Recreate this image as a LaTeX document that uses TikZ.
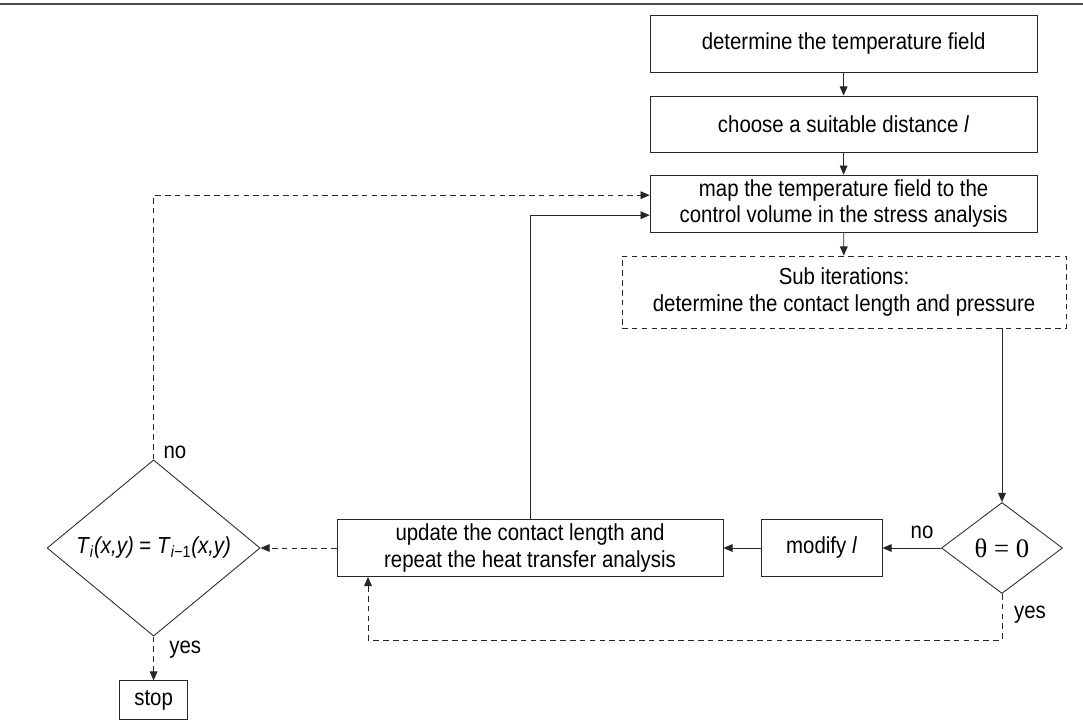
\documentclass[tikz,border=0pt]{standalone}
\usepackage{fontspec}
\setmainfont{Liberation Sans}[FakeStretch=0.88]
\newfontfamily\thetafont{Liberation Serif}
\usetikzlibrary{shapes.geometric,arrows.meta}

\begin{document}
\begin{tikzpicture}[
    font=\fontsize{16.5}{19}\selectfont,
    stepbox/.style={draw=black!85, line width=0.6pt, align=center, minimum width=9.675cm, minimum height=1.425cm, inner sep=2pt},
    testbox/.style={draw=black!85, diamond, line width=0.6pt, inner sep=0pt},
    flow/.style={draw=black!85, line width=0.6pt, -{Triangle[length=6.5pt,width=5.5pt]}},
    flowdash/.style={flow, dash pattern=on 4pt off 3pt}
  ]
  \useasboundingbox (0,0) rectangle (27.075,18.15);

  % rule at the top
  \draw[line width=1.2pt, black!70] (0,18.05) -- (27.075,18.05);

  % main column
  \node[stepbox] (field) at (21.09,17.06) {determine the temperature field};
  \node[stepbox, minimum height=1.4cm] (dist) at (21.09,15.05) {choose a suitable distance \textit{l}};
  \node[stepbox] (map) at (21.09,13.06) {map the temperature field to the\\control volume in the stress analysis};
  \node[stepbox, dash pattern=on 4pt off 3pt, minimum width=11.1cm, minimum height=1.8cm] (sub) at (21.1,10.85) {Sub iterations:\\determine the contact length and pressure};

  % lower row
  \node[testbox, minimum width=3.025cm, minimum height=2.275cm] (theta) at (25.05,4.45) {\thetafont\fontsize{19}{21}\selectfont θ = 0};
  \node[stepbox, minimum width=3.025cm] (mod) at (20.54,4.45) {modify \textit{l}};
  \node[stepbox, minimum width=9.65cm] (upd) at (13.25,4.45) {update the contact length and\\repeat the heat transfer analysis};
  \node[testbox, minimum width=5.325cm, minimum height=4.025cm] (cmp) at (3.84,4.45) {\textit{T}\textsubscript{\textit{i}}\textit{(x,y)} = \textit{T}\textsubscript{\textit{i}−1}\textit{(x,y)}};
  \node[stepbox, minimum width=1.7cm, minimum height=0.975cm] (stop) at (3.84,0.64) {stop};

  % solid connectors
  \draw[flow] (field) -- (dist);
  \draw[flow] (dist) -- (map);
  \draw[flow] (map) -- (sub);
  \draw[flow] (sub.south -| theta.north) -- (theta.north);
  \draw[flow] (theta.west) -- (mod.east);
  \draw[flow] (mod.west) -- (upd.east);
  \draw[flow] (upd.north) |- ([yshift=-0.29cm]map.west);

  % dashed connectors
  \draw[flowdash] (theta.south) -- ++(0,-1.15) -| ([xshift=-4.05cm]upd.south);
  \draw[flowdash] (upd.west) -- (cmp.east);
  \draw[flowdash] (cmp.north) |- ([yshift=0.21cm]map.west);
  \draw[flowdash] (cmp.south) -- (stop.north);

  % yes / no labels
  \node at (23.05,4.85) {no};
  \node at (25.75,2.78) {yes};
  \node at (4.375,6.83) {no};
  \node at (4.63,1.9) {yes};
\end{tikzpicture}
\end{document}
